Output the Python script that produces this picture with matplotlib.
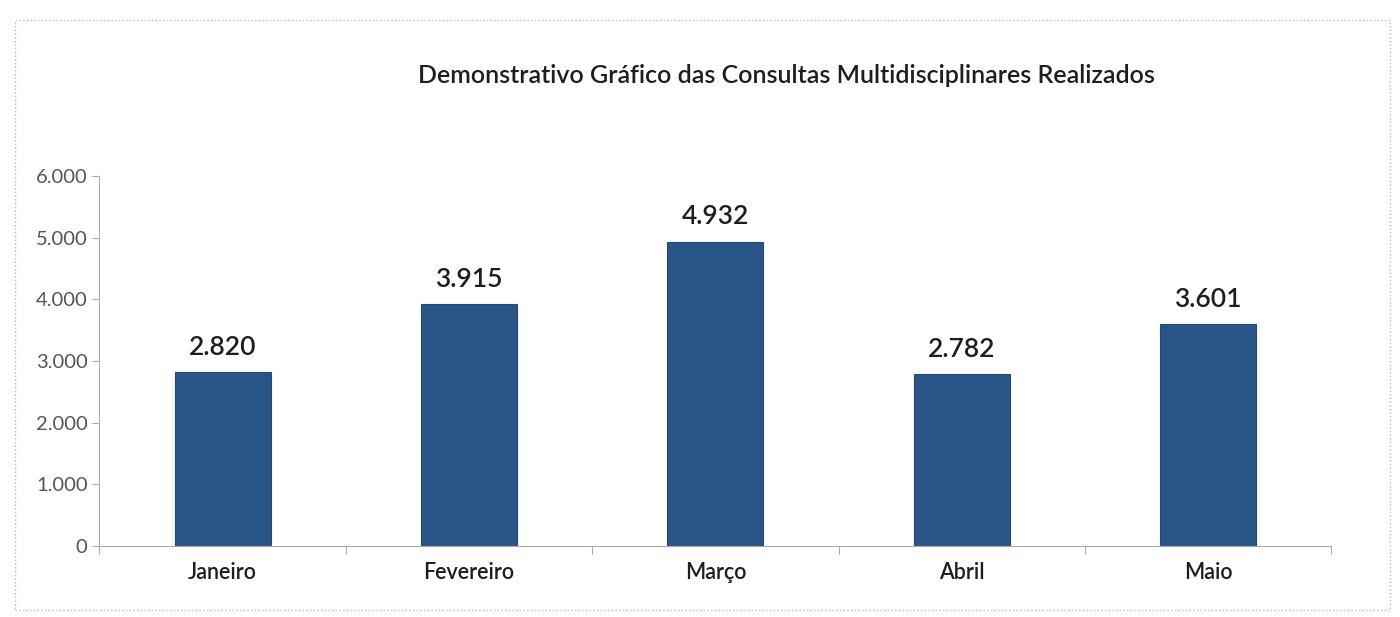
import matplotlib.pyplot as plt
from matplotlib.patches import Rectangle

meses = ["Janeiro", "Fevereiro", "Março", "Abril", "Maio"]
consultas = [2820, 3915, 4932, 2782, 3601]
yticks = [0, 1000, 2000, 3000, 4000, 5000, 6000]


def fmt(v):
    return f"{v:,}".replace(",", ".")


plt.rcParams['font.family'] = ['Lato', 'DejaVu Sans']

fig = plt.figure(figsize=(14, 6.17), dpi=100)
ax = fig.add_axes([0.071, 0.115, 0.88, 0.60])

x = range(len(meses))
bars = ax.bar(x, consultas, width=0.39, color="#2a5587", edgecolor="#22497a", linewidth=0.8)

for b, v in zip(bars, consultas):
    ax.text(b.get_x() + b.get_width() / 2, v + 200, fmt(v),
            ha="center", va="bottom", fontsize=19, fontweight="semibold", color="#1e1e1e")

ax.set_xlim(-0.5, len(meses) - 0.5)
ax.set_ylim(0, 6000)
ax.set_yticks(yticks)
ax.set_yticklabels([fmt(t) for t in yticks], fontsize=14.5, color="#555555")
ax.set_xticks([i + 0.5 for i in range(-1, len(meses))])
ax.set_xticklabels([])
ax.tick_params(axis="x", length=6, color="#aaaaaa", direction="out")
ax.tick_params(axis="y", length=5, color="#aaaaaa", direction="out")
for i, m in enumerate(meses):
    ax.text(i, -430, m, ha="center", va="center", fontsize=15.5,
            fontweight="semibold", color="#1e1e1e")

for s in ["top", "right"]:
    ax.spines[s].set_visible(False)
ax.spines["left"].set_color("#aaaaaa")
ax.spines["bottom"].set_color("#aaaaaa")

fig.text(0.562, 0.878, "Demonstrativo Gráfico das Consultas Multidisciplinares Realizados",
         ha="center", va="center", fontsize=18, fontweight="semibold", color="#1e1e1e")

fig.patches.append(Rectangle((0.011, 0.012), 0.982, 0.955, transform=fig.transFigure,
                             fill=False, edgecolor="#bbbbbb", linewidth=1, linestyle=":"))

fig.savefig("out.png", dpi=100)
